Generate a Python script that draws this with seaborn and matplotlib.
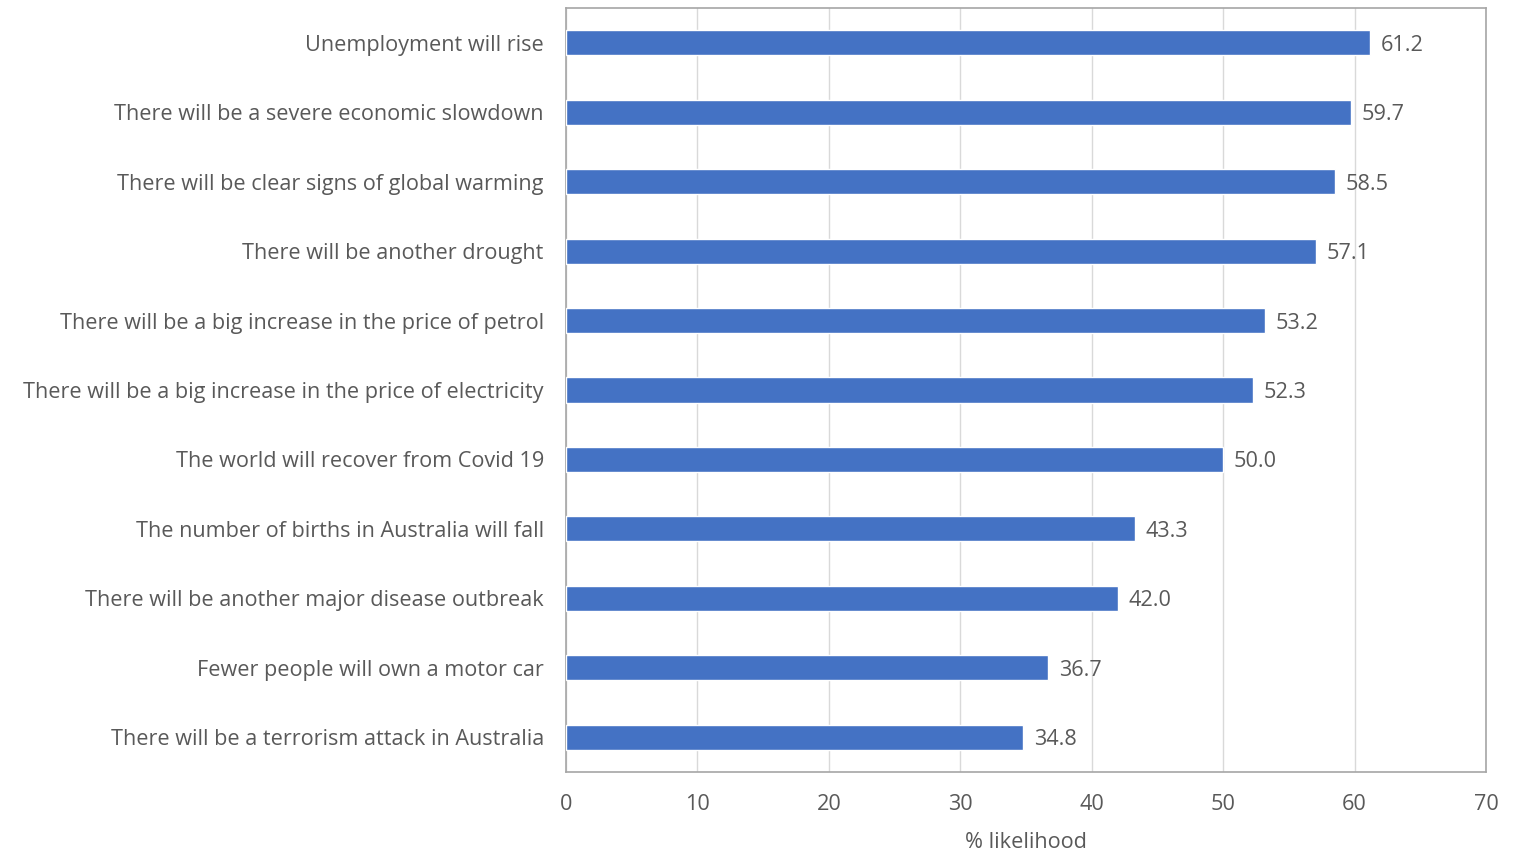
import matplotlib
matplotlib.use("Agg")
import matplotlib.pyplot as plt
import seaborn as sns
import pandas as pd

categories = [
    "Unemployment will rise",
    "There will be a severe economic slowdown",
    "There will be clear signs of global warming",
    "There will be another drought",
    "There will be a big increase in the price of petrol",
    "There will be a big increase in the price of electricity",
    "The world will recover from Covid 19",
    "The number of births in Australia will fall",
    "There will be another major disease outbreak",
    "Fewer people will own a motor car",
    "There will be a terrorism attack in Australia",
]
values = [61.2, 59.7, 58.5, 57.1, 53.2, 52.3, 50.0, 43.3, 42.0, 36.7, 34.8]
x_ticks = [0, 10, 20, 30, 40, 50, 60, 70]
x_label = "% likelihood"

sns.set_style("white")
plt.rcParams["font.family"] = ["Open Sans", "DejaVu Sans"]

text_color = "#595959"
bar_color = "#4472C4"
fs = 15.6

df = pd.DataFrame({"event": categories, "pct": values})

fig = plt.figure(figsize=(15.24, 8.52), dpi=100)
ax = fig.add_axes([566 / 1524, 1 - 772 / 852, (1486 - 566) / 1524, (772 - 8) / 852])

sns.barplot(data=df, x="pct", y="event", orient="h", color=bar_color,
            saturation=1, width=0.36, ax=ax, zorder=3)

for i, v in enumerate(values):
    ax.text(v + 0.8, i, f"{v:.1f}", va="center_baseline", ha="left",
            fontsize=fs, color=text_color)

ax.set_xlim(0, 70)
ax.set_ylim(len(categories) - 0.5, -0.5)
ax.set_xticks(x_ticks)
ax.set_xticklabels([str(t) for t in x_ticks])
ax.xaxis.grid(True, color="#d9d9d9", linewidth=1, zorder=0)
ax.set_axisbelow(True)
ax.set_ylabel("")
ax.set_xlabel(x_label, fontsize=fs, color=text_color, labelpad=12)
ax.tick_params(axis="x", labelsize=fs, labelcolor=text_color, length=0, pad=16)
ax.tick_params(axis="y", labelsize=fs, labelcolor=text_color, length=0, pad=16)

for side in ["left", "right", "top", "bottom"]:
    ax.spines[side].set_visible(True)
    ax.spines[side].set_color("#a6a6a6")
    ax.spines[side].set_linewidth(1.2)

fig.savefig("out.png", dpi=100, facecolor="white")
